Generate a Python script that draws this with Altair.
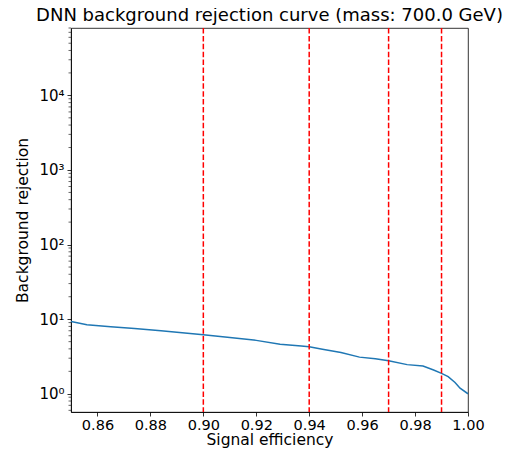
import altair as alt
import pandas as pd

# Curve values
eff = [0.850, 0.856, 0.865, 0.874, 0.884, 0.892, 0.900, 0.910, 0.920, 0.929,
       0.937, 0.940, 0.945, 0.952, 0.959, 0.965, 0.970, 0.977, 0.983, 0.987,
       0.990, 0.9925, 0.9951, 0.9970, 1.000]
rej = [9.3, 8.4, 7.9, 7.5, 7.0, 6.6, 6.2, 5.7, 5.2, 4.6,
       4.36, 4.28, 3.95, 3.57, 3.1, 2.95, 2.77, 2.46, 2.35, 2.08,
       1.88, 1.70, 1.42, 1.19, 1.0]

cut_effs = [0.90, 0.94, 0.97, 0.99]
x_ticks = [0.86, 0.88, 0.90, 0.92, 0.94, 0.96, 0.98, 1.00]
y_major = [1, 10, 100, 1000, 10000]
y_labels = ["10⁰", "10¹", "10²", "10³", "10⁴"]
y_minor = [0.6, 0.7, 0.8, 0.9,
           2, 3, 4, 5, 6, 7, 8, 9,
           20, 30, 40, 50, 60, 70, 80, 90,
           200, 300, 400, 500, 600, 700, 800, 900,
           2000, 3000, 4000, 5000, 6000, 7000, 8000, 9000,
           20000, 30000, 40000, 50000, 60000, 70000, 80000]

title_text = "DNN background rejection curve (mass: 700.0 GeV)"
FONT = "DejaVu Sans"

curve_df = pd.DataFrame({"eff": eff, "rej": rej})
cuts_df = pd.DataFrame({"eff": cut_effs})
minor_df = pd.DataFrame({"rej": y_minor})

xscale = alt.Scale(domain=[0.85, 1.0], nice=False, zero=False)
yscale = alt.Scale(type="log", domain=[0.57, 80000], nice=False)

label_expr = " : ".join(
    [f"datum.value == {v} ? '{l}'" for v, l in zip(y_major, y_labels)]
) + " : ''"

x_axis = alt.Axis(values=x_ticks, format=".2f", title="Signal efficiency",
                  labelFontSize=14.5, titleFontSize=15.5, labelFont=FONT, titleFont=FONT,
                  titleFontWeight="normal", labelColor="black", titleColor="black",
                  tickColor="black", tickSize=4, tickWidth=0.8, grid=False,
                  labelFlush=False, labelOverlap=False,
                  domainColor="black", domainWidth=0.8, labelPadding=2, titlePadding=1)
y_axis = alt.Axis(values=y_major, labelExpr=label_expr, title="Background rejection",
                  labelFontSize=15, titleFontSize=15.5, labelFont=FONT, titleFont=FONT,
                  titleFontWeight="normal", labelColor="black", titleColor="black",
                  tickColor="black", tickSize=4, tickWidth=0.8, grid=False,
                  labelFlush=False, labelOverlap=False,
                  domainColor="black", domainWidth=0.8, labelPadding=3, titlePadding=8)

curve = alt.Chart(curve_df).mark_line(color="#1f77b4", strokeWidth=1.5, clip=True).encode(
    x=alt.X("eff:Q", scale=xscale, axis=x_axis),
    y=alt.Y("rej:Q", scale=yscale, axis=y_axis),
)

cuts = alt.Chart(cuts_df).mark_rule(color="red", strokeDash=[5.5, 2.4], strokeWidth=1.5).encode(
    x=alt.X("eff:Q", scale=xscale, axis=x_axis),
)

minor = alt.Chart(minor_df).mark_rule(color="black", strokeWidth=0.6).encode(
    y=alt.Y("rej:Q", scale=yscale, axis=y_axis),
    x=alt.value(0),
    x2=alt.value(-2.5),
)

chart = alt.layer(curve, cuts, minor).properties(
    width=397,
    height=384,
    title=alt.TitleParams(title_text, fontSize=18, font=FONT, fontWeight="normal",
                          anchor="middle", offset=2, color="black"),
    autosize=alt.AutoSizeParams(type="none"),
    padding={"left": 63, "top": 20, "right": 42, "bottom": 40},
).configure_view(stroke="black", strokeWidth=0.8)

chart.save("out.html", embed_options={"renderer": "svg", "actions": False})
